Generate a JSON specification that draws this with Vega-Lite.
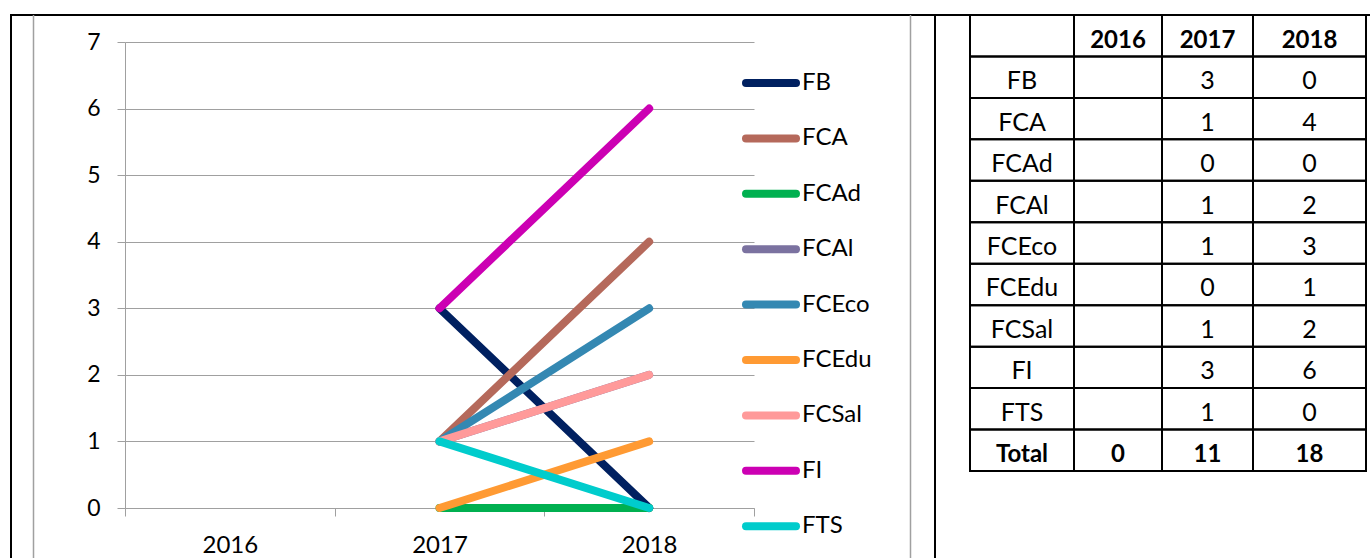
{
  "$schema": "https://vega.github.io/schema/vega-lite/v6.json",
  "width": 1364,
  "height": 548,
  "autosize": {"type": "none"},
  "padding": {"left": 11, "top": 15, "right": -5, "bottom": -5},
  "background": "white",
  "config": {"view": {"stroke": "black", "strokeWidth": 2}, "font": "Lato"},
  "datasets": {
    "counts": [
      {"faculty": "FB", "year": "2017", "count": 3},
      {"faculty": "FB", "year": "2018", "count": 0},
      {"faculty": "FCA", "year": "2017", "count": 1},
      {"faculty": "FCA", "year": "2018", "count": 4},
      {"faculty": "FCAd", "year": "2017", "count": 0},
      {"faculty": "FCAd", "year": "2018", "count": 0},
      {"faculty": "FCAl", "year": "2017", "count": 1},
      {"faculty": "FCAl", "year": "2018", "count": 2},
      {"faculty": "FCEco", "year": "2017", "count": 1},
      {"faculty": "FCEco", "year": "2018", "count": 3},
      {"faculty": "FCEdu", "year": "2017", "count": 0},
      {"faculty": "FCEdu", "year": "2018", "count": 1},
      {"faculty": "FCSal", "year": "2017", "count": 1},
      {"faculty": "FCSal", "year": "2018", "count": 2},
      {"faculty": "FI", "year": "2017", "count": 3},
      {"faculty": "FI", "year": "2018", "count": 6},
      {"faculty": "FTS", "year": "2017", "count": 1},
      {"faculty": "FTS", "year": "2018", "count": 0}
    ],
    "cells": [
      {"row": "header", "col": "label", "text": ""},
      {"row": "header", "col": "2016", "text": "2016"},
      {"row": "header", "col": "2017", "text": "2017"},
      {"row": "header", "col": "2018", "text": "2018"},
      {"row": "FB", "col": "label", "text": "FB"},
      {"row": "FB", "col": "2016", "text": ""},
      {"row": "FB", "col": "2017", "text": "3"},
      {"row": "FB", "col": "2018", "text": "0"},
      {"row": "FCA", "col": "label", "text": "FCA"},
      {"row": "FCA", "col": "2016", "text": ""},
      {"row": "FCA", "col": "2017", "text": "1"},
      {"row": "FCA", "col": "2018", "text": "4"},
      {"row": "FCAd", "col": "label", "text": "FCAd"},
      {"row": "FCAd", "col": "2016", "text": ""},
      {"row": "FCAd", "col": "2017", "text": "0"},
      {"row": "FCAd", "col": "2018", "text": "0"},
      {"row": "FCAl", "col": "label", "text": "FCAl"},
      {"row": "FCAl", "col": "2016", "text": ""},
      {"row": "FCAl", "col": "2017", "text": "1"},
      {"row": "FCAl", "col": "2018", "text": "2"},
      {"row": "FCEco", "col": "label", "text": "FCEco"},
      {"row": "FCEco", "col": "2016", "text": ""},
      {"row": "FCEco", "col": "2017", "text": "1"},
      {"row": "FCEco", "col": "2018", "text": "3"},
      {"row": "FCEdu", "col": "label", "text": "FCEdu"},
      {"row": "FCEdu", "col": "2016", "text": ""},
      {"row": "FCEdu", "col": "2017", "text": "0"},
      {"row": "FCEdu", "col": "2018", "text": "1"},
      {"row": "FCSal", "col": "label", "text": "FCSal"},
      {"row": "FCSal", "col": "2016", "text": ""},
      {"row": "FCSal", "col": "2017", "text": "1"},
      {"row": "FCSal", "col": "2018", "text": "2"},
      {"row": "FI", "col": "label", "text": "FI"},
      {"row": "FI", "col": "2016", "text": ""},
      {"row": "FI", "col": "2017", "text": "3"},
      {"row": "FI", "col": "2018", "text": "6"},
      {"row": "FTS", "col": "label", "text": "FTS"},
      {"row": "FTS", "col": "2016", "text": ""},
      {"row": "FTS", "col": "2017", "text": "1"},
      {"row": "FTS", "col": "2018", "text": "0"},
      {"row": "Total", "col": "label", "text": "Total"},
      {"row": "Total", "col": "2016", "text": "0"},
      {"row": "Total", "col": "2017", "text": "11"},
      {"row": "Total", "col": "2018", "text": "18"}
    ],
    "chartArea": [{"edge": "chart area left"}, {"edge": "chart area right"}],
    "divider": [{"edge": "cell divider"}]
  },
  "layer": [
    {
      "data": {"name": "chartArea"},
      "mark": {"type": "rule", "color": "#a0a0a0", "strokeWidth": 1.5},
      "encoding": {
        "x": {"field": "edge", "type": "nominal", "scale": {"type": "point", "domain": ["chart area left", "chart area right"], "range": [22.5, 899.5], "padding": 0}, "axis": null}
      }
    },
    {
      "data": {"name": "divider"},
      "mark": {"type": "rule", "color": "black", "strokeWidth": 2},
      "encoding": {
        "x": {"field": "edge", "type": "nominal", "scale": {"type": "point", "domain": ["cell divider"], "range": [924, 924], "padding": 0}, "axis": null}
      }
    },
    {
      "data": {"name": "counts"},
      "mark": {"type": "line", "strokeWidth": 8, "strokeCap": "round", "strokeJoin": "round"},
      "encoding": {
        "x": {
          "field": "year", "type": "ordinal",
          "scale": {"type": "band", "domain": ["2016", "2017", "2018"], "range": [114, 743], "paddingInner": 0, "paddingOuter": 0},
          "axis": {"title": null, "orient": "bottom", "offset": -55, "tickBand": "extent", "tickSize": 8, "tickColor": "#a0a0a0", "domainColor": "#a0a0a0", "labelAngle": 0, "labelFont": "Lato", "labelFontSize": 24, "labelColor": "black", "labelBaseline": "alphabetic", "labelPadding": 36, "grid": false}
        },
        "y": {
          "field": "count", "type": "quantitative",
          "scale": {"domain": [0, 7], "range": [493, 27], "nice": false, "zero": true},
          "axis": {"title": null, "orient": "left", "offset": -114, "values": [0, 1, 2, 3, 4, 5, 6, 7], "tickSize": 8, "tickColor": "#a0a0a0", "domainColor": "#a0a0a0", "grid": true, "gridColor": "#a0a0a0", "labelFont": "Lato", "labelFontSize": 23, "labelColor": "black", "labelPadding": 17}
        },
        "color": {
          "field": "faculty", "type": "nominal",
          "scale": {
            "domain": ["FB", "FCA", "FCAd", "FCAl", "FCEco", "FCEdu", "FCSal", "FI", "FTS"],
            "range": ["#002060", "#b5695b", "#00b050", "#7b72a0", "#3488b2", "#ff9a33", "#ff9a9a", "#cc00b3", "#00cccc"]
          },
          "legend": {
            "title": null, "orient": "none", "legendX": 731, "legendY": 39,
            "symbolType": "stroke", "symbolStrokeWidth": 8, "symbolSize": 2500,
            "labelFont": "Lato", "labelFontSize": 24, "labelColor": "black", "labelOffset": 2,
            "rowPadding": 10.4, "padding": 0, "labelLimit": 0,
            "encode": {"symbols": {"update": {"strokeCap": {"value": "round"}}}}
          }
        }
      }
    },
    {
      "data": {"name": "cells"},
      "transform": [{"filter": "datum.col === 'label'"}],
      "encoding": {
        "x": {"field": "col", "type": "nominal", "scale": {"type": "band", "domain": ["label"], "range": [959, 1063], "paddingInner": 0, "paddingOuter": 0}, "axis": null},
        "y": {"field": "row", "type": "nominal", "scale": {"type": "band", "domain": ["header", "FB", "FCA", "FCAd", "FCAl", "FCEco", "FCEdu", "FCSal", "FI", "FTS", "Total"], "range": [0, 456], "paddingInner": 0, "paddingOuter": 0}, "axis": null}
      },
      "layer": [
        {"mark": {"type": "rect", "filled": false, "color": "black", "strokeWidth": 2}},
        {"transform": [{"filter": "datum.row !== 'header' && datum.row !== 'Total'"}], "mark": {"type": "text", "font": "Lato", "fontSize": 25, "baseline": "alphabetic", "dy": 12, "color": "black"}, "encoding": {"text": {"field": "text"}}},
        {"transform": [{"filter": "datum.row === 'header' || datum.row === 'Total'"}], "mark": {"type": "text", "font": "Lato", "fontSize": 24, "fontWeight": "bold", "baseline": "alphabetic", "dy": 12, "color": "black"}, "encoding": {"text": {"field": "text"}}}
      ]
    },
    {
      "data": {"name": "cells"},
      "transform": [{"filter": "datum.col === '2016'"}],
      "encoding": {
        "x": {"field": "col", "type": "nominal", "scale": {"type": "band", "domain": ["2016"], "range": [1063, 1151], "paddingInner": 0, "paddingOuter": 0}, "axis": null},
        "y": {"field": "row", "type": "nominal", "scale": {"type": "band", "domain": ["header", "FB", "FCA", "FCAd", "FCAl", "FCEco", "FCEdu", "FCSal", "FI", "FTS", "Total"], "range": [0, 456], "paddingInner": 0, "paddingOuter": 0}, "axis": null}
      },
      "layer": [
        {"mark": {"type": "rect", "filled": false, "color": "black", "strokeWidth": 2}},
        {"transform": [{"filter": "datum.row !== 'header' && datum.row !== 'Total'"}], "mark": {"type": "text", "font": "Lato", "fontSize": 25, "baseline": "alphabetic", "dy": 12, "color": "black"}, "encoding": {"text": {"field": "text"}}},
        {"transform": [{"filter": "datum.row === 'header' || datum.row === 'Total'"}], "mark": {"type": "text", "font": "Lato", "fontSize": 24, "fontWeight": "bold", "baseline": "alphabetic", "dy": 12, "color": "black"}, "encoding": {"text": {"field": "text"}}}
      ]
    },
    {
      "data": {"name": "cells"},
      "transform": [{"filter": "datum.col === '2017'"}],
      "encoding": {
        "x": {"field": "col", "type": "nominal", "scale": {"type": "band", "domain": ["2017"], "range": [1151, 1242], "paddingInner": 0, "paddingOuter": 0}, "axis": null},
        "y": {"field": "row", "type": "nominal", "scale": {"type": "band", "domain": ["header", "FB", "FCA", "FCAd", "FCAl", "FCEco", "FCEdu", "FCSal", "FI", "FTS", "Total"], "range": [0, 456], "paddingInner": 0, "paddingOuter": 0}, "axis": null}
      },
      "layer": [
        {"mark": {"type": "rect", "filled": false, "color": "black", "strokeWidth": 2}},
        {"transform": [{"filter": "datum.row !== 'header' && datum.row !== 'Total'"}], "mark": {"type": "text", "font": "Lato", "fontSize": 25, "baseline": "alphabetic", "dy": 12, "color": "black"}, "encoding": {"text": {"field": "text"}}},
        {"transform": [{"filter": "datum.row === 'header' || datum.row === 'Total'"}], "mark": {"type": "text", "font": "Lato", "fontSize": 24, "fontWeight": "bold", "baseline": "alphabetic", "dy": 12, "color": "black"}, "encoding": {"text": {"field": "text"}}}
      ]
    },
    {
      "data": {"name": "cells"},
      "transform": [{"filter": "datum.col === '2018'"}],
      "encoding": {
        "x": {"field": "col", "type": "nominal", "scale": {"type": "band", "domain": ["2018"], "range": [1242, 1355], "paddingInner": 0, "paddingOuter": 0}, "axis": null},
        "y": {"field": "row", "type": "nominal", "scale": {"type": "band", "domain": ["header", "FB", "FCA", "FCAd", "FCAl", "FCEco", "FCEdu", "FCSal", "FI", "FTS", "Total"], "range": [0, 456], "paddingInner": 0, "paddingOuter": 0}, "axis": null}
      },
      "layer": [
        {"mark": {"type": "rect", "filled": false, "color": "black", "strokeWidth": 2}},
        {"transform": [{"filter": "datum.row !== 'header' && datum.row !== 'Total'"}], "mark": {"type": "text", "font": "Lato", "fontSize": 25, "baseline": "alphabetic", "dy": 12, "color": "black"}, "encoding": {"text": {"field": "text"}}},
        {"transform": [{"filter": "datum.row === 'header' || datum.row === 'Total'"}], "mark": {"type": "text", "font": "Lato", "fontSize": 24, "fontWeight": "bold", "baseline": "alphabetic", "dy": 12, "color": "black"}, "encoding": {"text": {"field": "text"}}}
      ]
    }
  ],
  "resolve": {"scale": {"x": "independent", "y": "independent", "color": "independent"}, "axis": {"x": "independent", "y": "independent"}}
}
